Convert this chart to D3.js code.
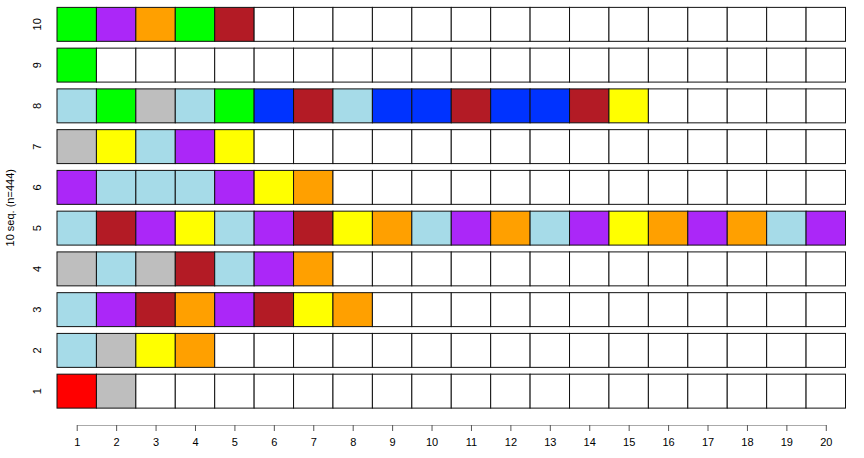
<!DOCTYPE html>
<html><head><meta charset="utf-8">
<script src="https://cdn.jsdelivr.net/npm/d3@7"></script>
<style>body{margin:0;background:#fff}svg{display:block}text{font-family:"Liberation Sans",Arial,sans-serif}</style>
</head><body><svg id="c" width="864" height="458"></svg>
<script>
const positions = d3.range(1, 21);
const seqIds = [1,2,3,4,5,6,7,8,9,10];
const seq1 = ["R","G"];
const seq2 = ["LB","G","Y","O"];
const seq3 = ["LB","P","FB","O","P","FB","Y","O"];
const seq4 = ["G","LB","G","FB","LB","P","O"];
const seq5 = ["LB","FB","P","Y","LB","P","FB","Y","O","LB","P","O","LB","P","Y","O","P","O","LB","P"];
const seq6 = ["P","LB","LB","LB","P","Y","O"];
const seq7 = ["G","Y","LB","P","Y"];
const seq8 = ["LB","GR","G","LB","GR","B","FB","LB","B","B","FB","B","B","FB","Y"];
const seq9 = ["GR"];
const seq10 = ["GR","P","O","GR","FB"];
const sequences = [seq1,seq2,seq3,seq4,seq5,seq6,seq7,seq8,seq9,seq10];
const stateCodes = ["LB","GR","G","P","O","FB","Y","B","R"];
const stateColors = ["#a6dbe8","#00ff00","#bebebe","#ab27f8","#ffa000","#b31b25","#ffff00","#0033ff","#ff0000"];
const yTitle = "10 seq. (n=444)";

const svg = d3.select("#c");
const color = d3.scaleOrdinal().domain(stateCodes).range(stateColors);
const x = d3.scaleBand().domain(positions).range([57, 845.5]).padding(0);
const y = d3.scaleBand().domain(seqIds.slice().reverse()).range([4, 411.5]).paddingInner(0.167).paddingOuter(0.083);

const cells = [];
sequences.forEach((s, i) => {
  positions.forEach((p, j) => cells.push({id: seqIds[i], pos: p, st: s[j] || null}));
});
svg.append("g").selectAll("rect").data(cells).join("rect")
  .attr("x", d => x(d.pos)).attr("y", d => y(d.id))
  .attr("width", x.bandwidth()).attr("height", y.bandwidth())
  .attr("fill", d => d.st ? color(d.st) : "#fff")
  .attr("stroke", "#111").attr("stroke-width", 1);

// x axis
const ax = svg.append("g").attr("transform", "translate(0,425)")
  .call(d3.axisBottom(d3.scalePoint().domain(positions).range([x(1)+x.bandwidth()/2, x(20)+x.bandwidth()/2])).tickSize(6).tickPadding(7).tickSizeOuter(0));
ax.select(".domain").attr("stroke", "#aaa");
ax.selectAll(".tick line").attr("stroke", "#555");
ax.selectAll("text").attr("font-size", 11).attr("fill", "#000").attr("font-family", "Liberation Sans, Arial, sans-serif");

// y labels
svg.append("g").selectAll("text").data(seqIds).join("text")
  .attr("transform", d => `translate(41,${y(d)+y.bandwidth()/2}) rotate(-90)`)
  .attr("text-anchor", "middle").attr("font-size", 11).text(d => d);

svg.append("text").attr("transform", `translate(14,${(y(10)+y(1)+y.bandwidth())/2}) rotate(-90)`)
  .attr("text-anchor", "middle").attr("font-size", 11).text(yTitle);
</script></body></html>
